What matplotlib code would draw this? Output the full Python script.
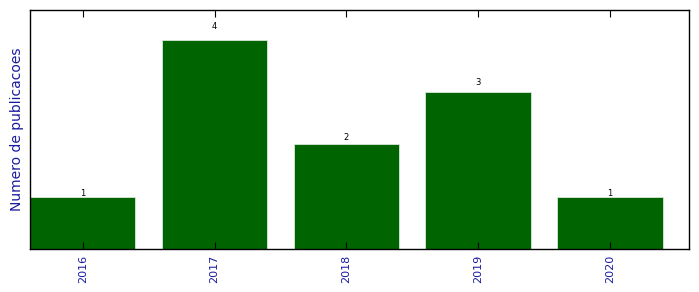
import matplotlib
matplotlib.use("Agg")
import matplotlib.pyplot as plt
import numpy as np

years = ["2016", "2017", "2018", "2019", "2020"]
counts = [1, 4, 2, 3, 1]

fig = plt.figure(figsize=(6.99, 2.92), dpi=100)
ax = fig.add_axes([30/699, 1 - 249/292, 659/699, 239/292])

x = np.arange(len(years))
bars = ax.bar(x, counts, width=0.8, color="#006400", edgecolor="#d8e8d8", linewidth=0.6)
for xi, c in zip(x, counts):
    ax.text(xi, c * 1.06 + 0.01, str(c), ha="center", va="center", fontsize=6, color="black")

ax.set_xlim(-0.4, 4.6)
ax.set_ylim(0, 4.57)
ax.set_xticks(x)
ax.set_xticklabels(years, rotation=90, color="#1a1aa0", fontsize=8)
ax.set_yticks([])
ax.tick_params(axis="x", direction="in", top=True, bottom=True, length=5, width=0.8, pad=4)
ax.set_ylabel("Numero de publicacoes", color="#1a1aa0", fontsize=10, labelpad=4)
for s in ax.spines.values():
    s.set_linewidth(1.0)
    s.set_color("black")

fig.savefig("out.png", dpi=100)
